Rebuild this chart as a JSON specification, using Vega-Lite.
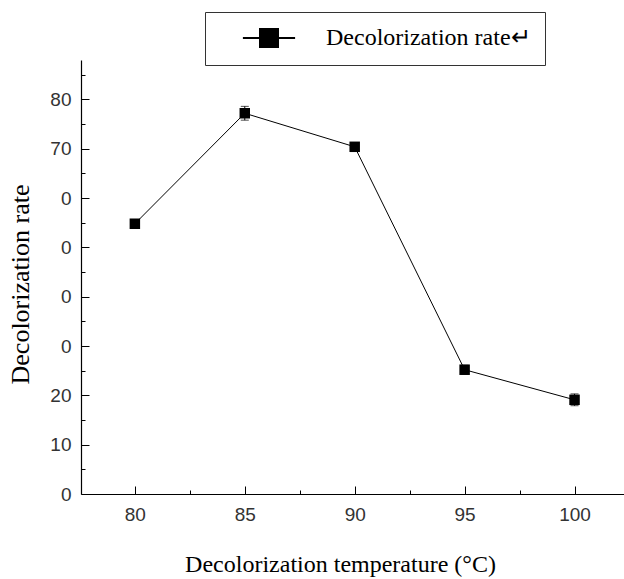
{
  "$schema": "https://vega.github.io/schema/vega-lite/v6.json",
  "width": 543,
  "height": 434,
  "autosize": {"type": "none"},
  "padding": {"left": 81, "top": 60, "right": 0, "bottom": 85},
  "background": "white",
  "data": {
    "values": [
      {"temp": 80, "rate": 54.8, "sd": 0.6},
      {"temp": 85, "rate": 77.2, "sd": 1.4},
      {"temp": 90, "rate": 70.4, "sd": 0.6},
      {"temp": 95, "rate": 25.2, "sd": 0.9},
      {"temp": 100, "rate": 19.1, "sd": 1.2}
    ]
  },
  "config": {
    "view": {"stroke": null},
    "axis": {
      "domainColor": "#000",
      "tickColor": "#000",
      "labelFont": "Liberation Sans",
      "labelFontSize": 19,
      "labelColor": "#333",
      "titleFont": "Liberation Serif",
      "titleFontSize": 24,
      "titleFontWeight": "normal",
      "titleColor": "#000",
      "grid": false
    }
  },
  "layer": [
    {
      "mark": {"type": "errorbar", "ticks": {"size": 8, "color": "black"}, "rule": {"color": "black"}},
      "encoding": {
        "x": {"field": "temp", "type": "quantitative", "scale": {"domain": [77.55, 102.25], "nice": false, "zero": false}, "axis": null},
        "y": {"field": "rate", "type": "quantitative", "scale": {"domain": [0, 88], "nice": false}, "axis": null},
        "yError": {"field": "sd"}
      }
    },
    {
      "mark": {"type": "line", "strokeWidth": 1, "color": "#222"},
      "encoding": {
        "x": {"field": "temp", "type": "quantitative", "scale": {"domain": [77.55, 102.25], "nice": false, "zero": false},
          "axis": {"orient": "bottom", "values": [80, 85, 90, 95, 100], "tickSize": -8, "labelPadding": 19, "title": "Decolorization temperature (°C)", "titlePadding": 28, "titleX": 259, "domainWidth": 1.2}},
        "y": {"field": "rate", "type": "quantitative", "scale": {"domain": [0, 88], "nice": false},
          "axis": {"orient": "left", "values": [0, 10, 20, 30, 40, 50, 60, 70, 80], "tickSize": -8, "labelPadding": 18, "title": "Decolorization rate", "titleFontSize": 26, "titlePadding": 16, "titleY": 224, "domainWidth": 1.2,
            "labelExpr": "datum.value >= 30 && datum.value <= 60 ? '0' : datum.label"}},
        "color": {"datum": "Decolorization rate↵", "scale": {"range": ["black"]},
          "legend": {"title": null, "orient": "none", "legendX": 124, "legendY": -48, "direction": "vertical",
            "strokeColor": "#333", "fillColor": "white", "padding": 14, "symbolOffset": 38,
            "symbolType": "M-2.9,0H2.9M-1,-1H1V1H-1Z", "symbolSize": 324, "symbolStrokeWidth": 2,
            "labelFont": "Liberation Serif", "labelFontSize": 24, "labelColor": "#000", "labelOffset": 45, "labelLimit": 400,
            "encode": {"symbols": {"update": {"fill": {"value": "black"}, "stroke": {"value": "black"}, "strokeWidth": {"value": 2}}}}}}
      }
    },
    {
      "mark": {"type": "point", "shape": "square", "filled": true, "size": 110, "color": "black", "opacity": 1},
      "encoding": {
        "x": {"field": "temp", "type": "quantitative", "scale": {"domain": [77.55, 102.25], "nice": false, "zero": false},
          "axis": {"orient": "bottom", "values": [82.5, 87.5, 92.5, 97.5], "tickSize": -4, "labels": false, "title": null, "domain": false}},
        "y": {"field": "rate", "type": "quantitative", "scale": {"domain": [0, 88], "nice": false},
          "axis": {"orient": "left", "values": [5, 15, 25, 35, 45, 55, 65, 75, 85], "tickSize": -4, "labels": false, "title": null, "domain": false}}
      }
    }
  ],
  "resolve": {"axis": {"x": "independent", "y": "independent"}}
}
